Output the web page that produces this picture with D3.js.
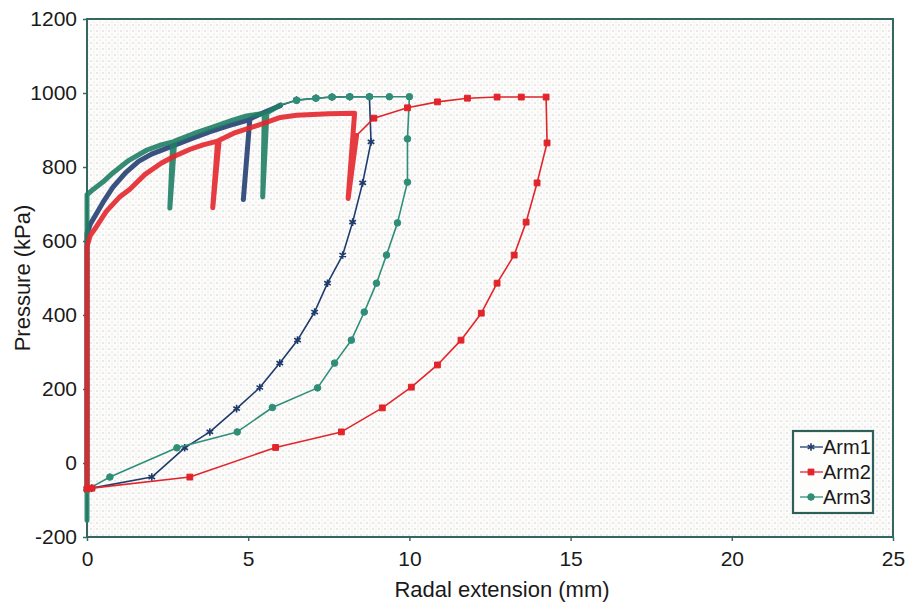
<!DOCTYPE html>
<html>
<head>
<meta charset="utf-8">
<script src="https://cdn.jsdelivr.net/npm/d3@7"></script>
<style>
  html, body { margin: 0; padding: 0; background: #fff; }
  svg { display: block; font-family: "Liberation Sans", Arial, sans-serif; }
</style>
</head>
<body>
<svg id="chart" width="914" height="604"></svg>
<script>
// Axis ticks
const xTicks = [0, 5, 10, 15, 20, 25];
const yTicks = [-200, 0, 200, 400, 600, 800, 1000, 1200];

// Series names for the legend
const seriesNames = ["Arm1", "Arm2", "Arm3"];

// Arm1: loading with a partial unload/reload, then full unloading  [mm, kPa]
const arm1Loading = [[0,-70],[0,620],[0.1,645],[0.3,675],[0.5,705],[0.8,745],[1.2,785],[1.6,815],[2,835],[2.6,855],[3.2,875],[3.8,895],[4.4,912],[5.05,928],[4.85,712],[5.05,930],[5.5,948],[6.0,966]];
const arm1Upper = [[6.0,966],[6.5,981],[7.1,986],[7.6,989],[8.15,990],[8.76,990]];
const arm1Unloading = [[8.76,990],[8.81,868],[8.55,757],[8.24,651],[7.93,562],[7.46,486],[7.06,408],[6.53,332],[5.98,270],[5.36,204],[4.64,147],[3.81,84],[3.03,41],[2.01,-38],[0.15,-68],[0,-70]];

// Arm2
const arm2Loading = [[0,-70],[0,585],[0.1,615],[0.3,640],[0.6,680],[1.0,718],[1.33,740],[1.8,780],[2.3,810],[2.66,827],[3.2,848],[3.6,860],[4.05,870],[3.9,690],[4.1,872],[4.6,893],[5.45,917],[6.0,934],[6.5,940],[7.5,944],[8.3,945],[8.1,715],[8.36,885]];
const arm2Upper = [[8.36,885],[8.9,932],[9.94,960],[10.87,976],[11.8,986],[12.72,989],[13.47,989],[14.24,989]];
const arm2Unloading = [[14.24,989],[14.27,865],[13.96,757],[13.62,651],[13.25,562],[12.72,486],[12.23,405],[11.6,332],[10.87,265],[10.06,205],[9.16,149],[7.89,84],[5.85,42],[3.19,-38],[0.15,-68],[0,-70]];

// Arm3
const arm3Loading = [[0,-155],[0,725],[0.2,740],[0.5,760],[0.8,784],[1.3,818],[1.86,846],[2.3,860],[2.66,868],[2.57,689],[2.72,870],[3.3,890],[3.9,908],[4.5,926],[4.95,938],[5.5,945],[5.45,719],[5.58,946],[6.0,968]];
const arm3Upper = [[6.0,968],[6.5,980],[7.1,986],[7.6,989],[8.15,990],[8.76,990],[9.38,990],[10,990]];
const arm3Unloading = [[10,990],[9.94,876],[9.94,759],[9.63,649],[9.29,562],[8.98,486],[8.6,408],[8.2,332],[7.68,270],[7.15,203],[5.75,150],[4.66,84],[2.79,41],[0.71,-38],[0,-72]];

const colors = { Arm1: "#1f3b6c", Arm2: "#e1252b", Arm3: "#2e8e78" };
const loadColors = { Arm1: "#233f72", Arm2: "#e3262c", Arm3: "#1f7e64" };

const svg = d3.select("#chart");
const plotL = 87, plotR = 893, plotT = 19, plotB = 537;

const x = d3.scaleLinear().domain([0, 25]).range([plotL, plotR]);
const y = d3.scaleLinear().domain([-200, 1200]).range([plotB, plotT]);

// Light halftone-style background inside the plot frame
const defs = svg.append("defs");
const pat = defs.append("pattern").attr("id", "dots")
  .attr("width", 6).attr("height", 6).attr("patternUnits", "userSpaceOnUse");
pat.append("rect").attr("width", 6).attr("height", 6).attr("fill", "#fcfcfb");
pat.append("circle").attr("cx", 1).attr("cy", 1).attr("r", 0.7).attr("fill", "#c4c9df");
pat.append("circle").attr("cx", 4).attr("cy", 4).attr("r", 0.6).attr("fill", "#ecc9c9");
pat.append("circle").attr("cx", 4).attr("cy", 1).attr("r", 0.5).attr("fill", "#ece6c2");

svg.append("rect").attr("x", plotL).attr("y", plotT)
  .attr("width", plotR - plotL).attr("height", plotB - plotT)
  .attr("fill", "url(#dots)");

// Axes: plain integer labels with an ASCII hyphen for negatives
const plain = d => String(d);
const axisY = d3.axisLeft(y).tickValues(yTicks).tickFormat(plain).tickSize(4).tickPadding(6);
const axisX = d3.axisBottom(x).tickValues(xTicks).tickFormat(plain).tickSize(4).tickPadding(10);

const gy = svg.append("g").attr("transform", `translate(${plotL},0)`).call(axisY);
const gx = svg.append("g").attr("transform", `translate(0,${plotB})`).call(axisX);
[gy, gx].forEach(g => {
  g.select(".domain").remove();
  g.selectAll(".tick line").attr("stroke", "#3b6a64").attr("stroke-width", 1.5);
  g.selectAll(".tick text").attr("fill", "#1a1a1a").style("font-size", "21px");
});

// Plot frame
svg.append("rect").attr("x", plotL).attr("y", plotT)
  .attr("width", plotR - plotL).attr("height", plotB - plotT)
  .attr("fill", "none").attr("stroke", "#356660").attr("stroke-width", 2);

const line = d3.line().x(d => x(d[0])).y(d => y(d[1]));

function drawArm(name, loading, upper, unloading, symbol, filled) {
  const c = colors[name];
  // dense logging during loading renders as a heavy trace
  svg.append("path").datum(loading).attr("d", line)
    .attr("fill", "none").attr("stroke", loadColors[name])
    .attr("stroke-width", 5).attr("stroke-linejoin", "round").attr("stroke-linecap", "round")
    .attr("opacity", 0.9);
  const thin = upper.concat(unloading.slice(1));
  svg.append("path").datum(thin).attr("d", line)
    .attr("fill", "none").attr("stroke", c).attr("stroke-width", 1.6)
    .attr("stroke-linejoin", "round");
  const sym = d3.symbol().type(symbol).size(filled ? 34 : 40);
  svg.append("g").selectAll("path").data(thin.slice(1)).join("path")
    .attr("transform", d => `translate(${x(d[0])},${y(d[1])})`)
    .attr("d", sym)
    .attr("fill", filled ? c : "none")
    .attr("stroke", c)
    .attr("stroke-width", filled ? 1 : 1.6);
}

drawArm("Arm1", arm1Loading, arm1Upper, arm1Unloading, d3.symbolAsterisk, false);
drawArm("Arm3", arm3Loading, arm3Upper, arm3Unloading, d3.symbolCircle, true);
drawArm("Arm2", arm2Loading, arm2Upper, arm2Unloading, d3.symbolSquare, true);

// Legend
const lg = svg.append("g");
lg.append("rect").attr("x", 793).attr("y", 431).attr("width", 80).attr("height", 82)
  .attr("fill", "#fdfdfc").attr("stroke", "#2f5f59").attr("stroke-width", 2.2);
const legendSymbols = { Arm1: [d3.symbolAsterisk, false], Arm2: [d3.symbolSquare, true], Arm3: [d3.symbolCircle, true] };
seriesNames.forEach((n, i) => {
  const yy = 447 + i * 25;
  lg.append("line").attr("x1", 800).attr("x2", 823).attr("y1", yy).attr("y2", yy)
    .attr("stroke", colors[n]).attr("stroke-width", 1.6).attr("opacity", 0.8);
  const [t, f] = legendSymbols[n];
  lg.append("path").attr("transform", `translate(811,${yy})`)
    .attr("d", d3.symbol().type(t).size(f ? 34 : 40))
    .attr("fill", f ? colors[n] : "none").attr("stroke", colors[n]).attr("stroke-width", f ? 1 : 1.6);
  lg.append("text").attr("x", 823).attr("y", yy + 7).text(n)
    .attr("fill", "#1a1a1a").style("font-size", "20px");
});

// Axis titles
svg.append("text").attr("x", 502).attr("y", 597).attr("text-anchor", "middle")
  .attr("fill", "#1a1a1a").style("font-size", "22px").text("Radal extension (mm)");
svg.append("text").attr("transform", "translate(30,278) rotate(-90)").attr("text-anchor", "middle")
  .attr("fill", "#1a1a1a").style("font-size", "22px").text("Pressure (kPa)");
</script>
</body>
</html>
